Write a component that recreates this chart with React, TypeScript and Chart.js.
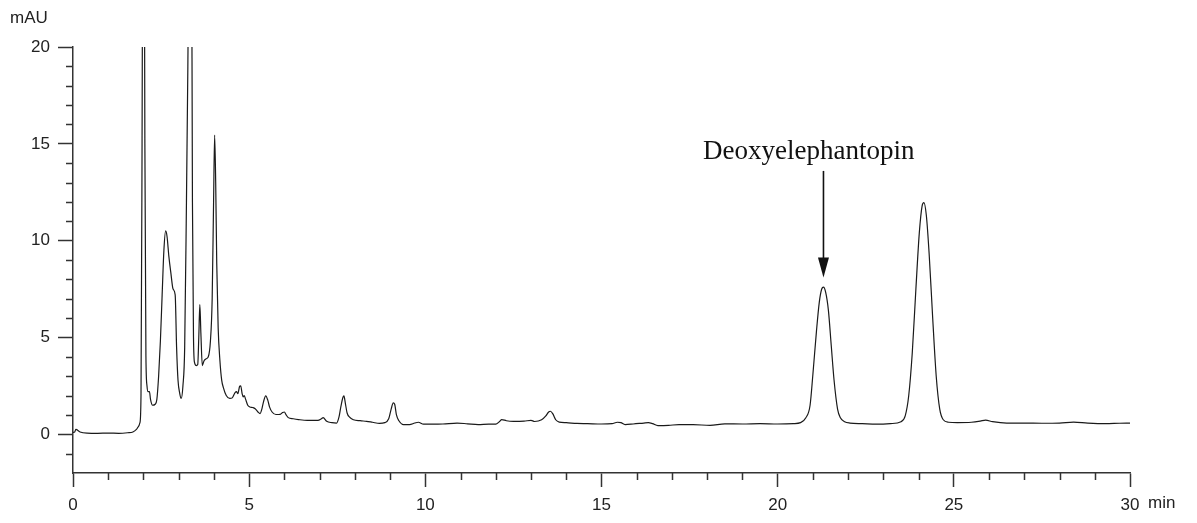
import React, { useEffect, useRef } from "react";
import { Chart, registerables } from "chart.js";

Chart.register(...registerables);

// Retention time (min)
const times: number[] = [
  0.0, 0.05, 0.08, 0.2, 0.4, 0.7, 1.0, 1.3, 1.55, 1.7, 1.8, 1.85, 1.9, 1.93, 1.96, 2.0, 2.04, 2.07, 2.1, 2.13,
  2.17, 2.2, 2.26, 2.33, 2.38, 2.43, 2.48, 2.53, 2.58, 2.63, 2.67, 2.72, 2.78, 2.84, 2.9, 2.94, 2.98, 3.03, 3.07, 3.12,
  3.17, 3.22, 3.26, 3.3, 3.36, 3.39, 3.42, 3.45, 3.5, 3.54, 3.57, 3.6, 3.63, 3.67, 3.72, 3.78, 3.84, 3.9, 3.95, 3.99,
  4.02, 4.05, 4.08, 4.12, 4.17, 4.22, 4.27, 4.35, 4.45, 4.52, 4.6, 4.64, 4.68, 4.73, 4.76, 4.8, 4.83, 4.86, 4.9, 4.96,
  5.02, 5.1, 5.17, 5.25, 5.31, 5.36, 5.41, 5.47, 5.53, 5.58, 5.65, 5.76, 5.88, 5.95, 6.0, 6.05, 6.11, 6.25, 6.4, 6.65,
  6.95, 7.05, 7.1, 7.2, 7.35, 7.48, 7.55, 7.6, 7.66, 7.69, 7.73, 7.78, 7.85, 7.96, 8.15, 8.33, 8.5, 8.7, 8.85, 8.96,
  9.03, 9.09, 9.13, 9.18, 9.25, 9.38, 9.55, 9.7, 9.8, 9.95, 10.2, 10.5, 10.9, 11.2, 11.5, 11.8, 12.0, 12.1, 12.17, 12.3,
  12.5, 12.8, 13.0, 13.1, 13.3, 13.42, 13.5, 13.55, 13.62, 13.7, 13.8, 14.0, 14.3, 14.6, 15.0, 15.3, 15.45, 15.55, 15.67, 15.9,
  16.2, 16.33, 16.45, 16.6, 16.9, 17.2, 17.6, 18.08, 18.5, 19.0, 19.5, 20.0, 20.45, 20.65, 20.8, 20.92, 21.0, 21.1, 21.18, 21.25,
  21.3, 21.36, 21.44, 21.52, 21.6, 21.7, 21.78, 21.9, 22.05, 22.4, 22.8, 23.2, 23.5, 23.62, 23.72, 23.82, 23.92, 24.02, 24.1, 24.15,
  24.22, 24.3, 24.4, 24.5, 24.6, 24.7, 24.85, 25.1, 25.5, 25.75, 25.9, 26.1, 26.5, 27.0, 27.5, 28.0, 28.4, 28.8, 29.3, 29.7,
  30.0,
];

// Absorbance (mAU)
const absorbance: number[] = [
  0.1, 0.12, 0.25, 0.12, 0.06, 0.05, 0.06, 0.05, 0.08, 0.12, 0.25, 0.38, 0.6, 2.0, 15, 40, 15, 4, 2.5, 2.2,
  2.2, 1.8, 1.5, 1.55, 1.8, 3.0, 4.8, 7.2, 9.5, 10.5, 10.2, 9.2, 8.3, 7.5, 7.2, 4.5, 2.8, 2.1, 1.85, 2.5,
  4.5, 12, 19, 28, 28, 12, 5.0, 3.7, 3.55, 3.6, 5.0, 6.7, 5.2, 3.55, 3.8, 3.9, 4.0, 4.8, 7.0, 12,
  15.45, 13, 8.8, 5.5, 3.8, 2.8, 2.4, 2.0, 1.85, 1.88, 2.15, 2.2, 2.1, 2.48, 2.5, 2.1, 1.93, 2.0, 1.8, 1.5,
  1.41, 1.38, 1.32, 1.15, 1.07, 1.3, 1.7, 1.98, 1.75, 1.4, 1.15, 1.02, 1.03, 1.12, 1.15, 1.0, 0.86, 0.8, 0.76, 0.72,
  0.72, 0.8, 0.86, 0.67, 0.6, 0.58, 0.9, 1.4, 1.9, 1.98, 1.6, 1.1, 0.88, 0.75, 0.7, 0.67, 0.62, 0.56, 0.6, 0.8,
  1.3, 1.62, 1.55, 1.0, 0.7, 0.5, 0.5, 0.58, 0.62, 0.52, 0.52, 0.53, 0.58, 0.54, 0.5, 0.52, 0.52, 0.65, 0.76, 0.7,
  0.67, 0.68, 0.72, 0.66, 0.75, 0.95, 1.15, 1.19, 1.05, 0.75, 0.63, 0.6, 0.56, 0.55, 0.53, 0.55, 0.62, 0.6, 0.5, 0.53,
  0.58, 0.6, 0.55, 0.45, 0.46, 0.5, 0.5, 0.46, 0.54, 0.53, 0.55, 0.53, 0.55, 0.6, 0.85, 1.5, 3.1, 5.3, 6.8, 7.5,
  7.6, 7.35, 6.4, 4.6, 2.8, 1.3, 0.85, 0.65, 0.58, 0.55, 0.52, 0.55, 0.65, 0.95, 2.0, 4.2, 7.4, 10.4, 11.8, 11.96,
  11.3, 9.3, 6.0, 3.0, 1.3, 0.75, 0.62, 0.6, 0.62, 0.68, 0.73, 0.65, 0.58, 0.58, 0.57, 0.58, 0.63, 0.58, 0.55, 0.57,
  0.58,
];

const xMajorTicks: number[] = [0, 5, 10, 15, 20, 25, 30];
const xMinorTicks: number[] = [1, 2, 3, 4, 6, 7, 8, 9, 11, 12, 13, 14, 16, 17, 18, 19, 21, 22, 23, 24, 26, 27, 28, 29];
const yMajorTicks: number[] = [0, 5, 10, 15, 20];
const yMinorTicks: number[] = [-1, 1, 2, 3, 4, 6, 7, 8, 9, 11, 12, 13, 14, 16, 17, 18, 19];

const yAxisTitle = "mAU";
const xAxisUnit = "min";

// Annotation (data coordinates)
const annotationLabel = "Deoxyelephantopin";
const annotationTime = 21.3;
const annotationArrowTop = 13.6;
const annotationArrowTip = 8.1;
const annotationLabelTime = 20.88;
const annotationLabelY = 14.2;

const SANS = "'Liberation Sans', Arial, Helvetica, sans-serif";
const SERIF = "'Liberation Serif', 'Times New Roman', serif";
const AXIS_COLOR = "#333333";

const decorPlugin = {
  id: "decor",
  afterDraw(chart: any) {
    const ctx = chart.ctx;
    const xs = chart.scales.x;
    const ys = chart.scales.y;
    const area = chart.chartArea;
    ctx.save();
    ctx.strokeStyle = AXIS_COLOR;
    ctx.lineWidth = 1.5;
    // minor ticks
    ctx.beginPath();
    for (const v of yMinorTicks) {
      const py = Math.round(ys.getPixelForValue(v)) + 0.5;
      ctx.moveTo(area.left - 7, py);
      ctx.lineTo(area.left, py);
    }
    for (const v of xMinorTicks) {
      const px = Math.round(xs.getPixelForValue(v)) + 0.5;
      ctx.moveTo(px, area.bottom);
      ctx.lineTo(px, area.bottom + 7);
    }
    ctx.stroke();

    // axis titles
    ctx.fillStyle = "#222";
    ctx.font = `17px ${SANS}`;
    ctx.textBaseline = "middle";
    ctx.textAlign = "left";
    ctx.fillText(yAxisTitle, 10, 18);
    const px30 = xs.getPixelForValue(xMajorTicks[xMajorTicks.length - 1]);
    ctx.fillText(xAxisUnit, px30 + 18, 503);

    // annotation arrow
    const ax = xs.getPixelForValue(annotationTime);
    const aTop = ys.getPixelForValue(annotationArrowTop);
    const aTip = ys.getPixelForValue(annotationArrowTip);
    ctx.strokeStyle = "#111";
    ctx.lineWidth = 1.6;
    ctx.beginPath();
    ctx.moveTo(ax, aTop);
    ctx.lineTo(ax, aTip - 18);
    ctx.stroke();
    ctx.fillStyle = "#111";
    ctx.beginPath();
    ctx.moveTo(ax - 5.5, aTip - 20);
    ctx.lineTo(ax + 5.5, aTip - 20);
    ctx.lineTo(ax, aTip);
    ctx.closePath();
    ctx.fill();

    // annotation label
    ctx.font = `27px ${SERIF}`;
    ctx.textAlign = "center";
    ctx.textBaseline = "alphabetic";
    ctx.fillStyle = "#111";
    ctx.fillText(annotationLabel, xs.getPixelForValue(annotationLabelTime), ys.getPixelForValue(annotationLabelY));
    ctx.restore();
  },
};

export default function App() {
  const canvasRef = useRef<HTMLCanvasElement | null>(null);

  useEffect(() => {
    const canvas = canvasRef.current;
    if (!canvas) return;
    const points = times.map((t, i) => ({ x: t, y: absorbance[i] }));
    const chart = new Chart(canvas, {
      type: "line",
      data: {
        datasets: [
          {
            data: points,
            borderColor: "#1a1a1a",
            borderWidth: 1.2,
            pointRadius: 0,
            fill: false,
            cubicInterpolationMode: "monotone",
          },
        ],
      },
      options: {
        responsive: false,
        animation: false,
        events: [],
        layout: { padding: { top: 47, right: 67, left: 0, bottom: 0 } },
        plugins: { legend: { display: false }, tooltip: { enabled: false } },
        scales: {
          x: {
            type: "linear",
            min: 0,
            max: 30,
            afterBuildTicks: (s: any) => {
              s.ticks = xMajorTicks.map((v) => ({ value: v }));
            },
            afterFit: (s: any) => {
              s.height = 50;
            },
            ticks: {
              autoSkip: false,
              maxRotation: 0,
              padding: 8,
              color: "#222",
              font: { size: 17, family: SANS },
              callback: (v: any) => String(v),
            },
            grid: {
              drawOnChartArea: false,
              drawTicks: true,
              tickLength: 14,
              tickColor: AXIS_COLOR,
              tickWidth: 1.5,
            },
            border: { color: AXIS_COLOR, width: 1.5 },
          },
          y: {
            type: "linear",
            min: -2,
            max: 20,
            afterBuildTicks: (s: any) => {
              s.ticks = yMajorTicks.map((v) => ({ value: v }));
            },
            afterFit: (s: any) => {
              s.width = 73;
            },
            ticks: {
              autoSkip: false,
              padding: 8,
              color: "#222",
              font: { size: 17, family: SANS },
              callback: (v: any) => String(v),
            },
            grid: {
              drawOnChartArea: false,
              drawTicks: true,
              tickLength: 15,
              tickColor: AXIS_COLOR,
              tickWidth: 1.5,
            },
            border: { color: AXIS_COLOR, width: 1.5 },
          },
        },
      },
      plugins: [decorPlugin],
    });
    return () => chart.destroy();
  }, []);

  return (
    <div style={{ position: "fixed", left: 0, top: 0, width: 1197, height: 523, background: "#fff" }}>
      <canvas ref={canvasRef} width={1197} height={523} />
    </div>
  );
}
